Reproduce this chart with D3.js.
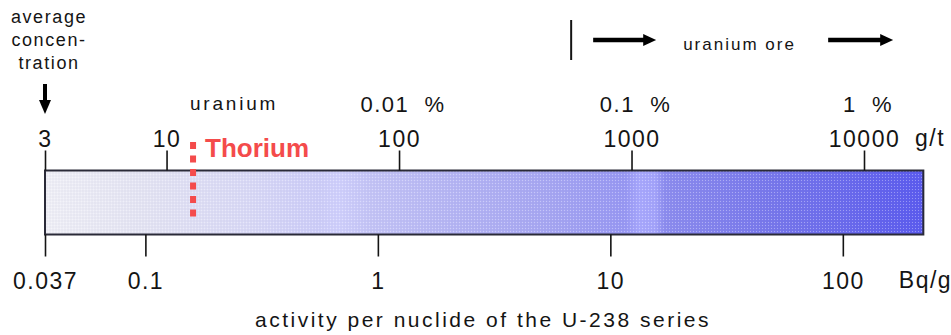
<!DOCTYPE html>
<html>
<head>
<meta charset="utf-8">
<script src="https://cdn.jsdelivr.net/npm/d3@7"></script>
<style>
  html, body { margin: 0; padding: 0; background: #ffffff; }
  svg { display: block; font-family: "Liberation Sans", Arial, sans-serif; }
</style>
</head>
<body>
<svg id="chart" width="951" height="335"></svg>
<script>
// ---- data ----
const gtTicks = [3, 10, 100, 1000, 10000];                 // uranium concentration, g/t
const gtTickLabels = ["3", "10", "100", "1000", "10000"];
const pctValues = [100, 1000, 10000];                     // g/t positions of percent labels
const pctLabels = ["0.01  %", "0.1  %", "1  %"];
const bqTicks = [0.037, 0.1, 1, 10, 100];                  // activity, Bq/g
const bqTickLabels = ["0.037", "0.1", "1", "10", "100"];
const averageConcentration = 3;                            // g/t
const thoriumValue = 13;                                   // g/t
const oreThreshold = 550;                                  // g/t
const barExtent = [3, 18000];                              // g/t
const bqPerGt = 0.037 / 3;                                 // Bq/g per g/t
const gradStopValues = [3, 8, 23, 45, 55, 75, 165, 445, 938, 1087, 1265, 1393, 4357, 17400];
const gradStopColors = ["#efeff6", "#e4e4f3", "#d9d9f6", "#cdcdf8", "#d0d0fc", "#c4c4f6",
                        "#b6b6f4", "#a6a6f2", "#9898f3", "#a8a8fd", "#a4a4fb", "#8c8cee",
                        "#7676eb", "#5c5cee"];

// ---- layout ----
const svg = d3.select("#chart");
const ink = "#141414";
const barTop = 170.5, barBottom = 234.5;

const x = d3.scaleLog().domain([3, 10000]).range([45, 864]);
const xBq = d3.scaleLog().domain(x.domain().map(d => d * bqPerGt)).range(x.range());

// gradient
const defs = svg.append("defs");
const x0 = x(barExtent[0]), x1 = x(barExtent[1]);
const grad = defs.append("linearGradient").attr("id", "barGrad")
  .attr("gradientUnits", "userSpaceOnUse")
  .attr("x1", x0).attr("x2", x1).attr("y1", 0).attr("y2", 0);
grad.selectAll("stop").data(gradStopValues).join("stop")
  .attr("offset", d => Math.max(0, Math.min(1, (x(d) - x0) / (x1 - x0))))
  .attr("stop-color", (d, i) => gradStopColors[i]);

// stipple texture
const pat = defs.append("pattern").attr("id", "stip")
  .attr("patternUnits", "userSpaceOnUse").attr("width", 3).attr("height", 3);
pat.append("rect").attr("x", 0).attr("y", 0).attr("width", 1).attr("height", 1)
  .attr("fill", "#ffffff").attr("opacity", 0.35);
pat.append("rect").attr("x", 1.5).attr("y", 1.5).attr("width", 1).attr("height", 1)
  .attr("fill", "#404070").attr("opacity", 0.12);

// bar
svg.append("rect")
  .attr("x", x0).attr("y", barTop)
  .attr("width", x1 - x0).attr("height", barBottom - barTop)
  .attr("fill", "url(#barGrad)");
svg.append("rect")
  .attr("x", x0).attr("y", barTop)
  .attr("width", x1 - x0).attr("height", barBottom - barTop)
  .attr("fill", "url(#stip)");
svg.append("rect")
  .attr("x", x0).attr("y", barTop)
  .attr("width", x1 - x0).attr("height", barBottom - barTop)
  .attr("fill", "none").attr("stroke", "#2a2a38").attr("stroke-width", 2);

const numStyle = sel => sel.attr("fill", ink)
  .style("font-size", "23px").style("letter-spacing", "1.5px")
  .style("font-family", "'Liberation Sans', Arial, sans-serif");

// top axis (g/t)
const topAxis = d3.axisTop(x).tickValues(gtTicks)
  .tickFormat((d, i) => gtTickLabels[i]).tickSizeInner(20).tickSizeOuter(0).tickPadding(4);
const gTop = svg.append("g").attr("transform", `translate(0,${barTop})`).call(topAxis);
gTop.select(".domain").remove();
gTop.selectAll(".tick line").attr("stroke", ink).attr("stroke-width", 1.6);
gTop.selectAll(".tick text").call(numStyle);

// bottom axis (Bq/g)
const botAxis = d3.axisBottom(xBq).tickValues(bqTicks)
  .tickFormat((d, i) => bqTickLabels[i]).tickSizeInner(22).tickSizeOuter(0).tickPadding(16);
const gBot = svg.append("g").attr("transform", `translate(0,${barBottom})`).call(botAxis);
gBot.select(".domain").remove();
gBot.selectAll(".tick line").attr("stroke", ink).attr("stroke-width", 1.6);
gBot.selectAll(".tick text").call(numStyle);

// unit labels
svg.append("text").attr("x", x(10000) + 51).attr("y", 146).call(numStyle).text("g/t");
svg.append("text").attr("x", xBq(100) + 56).attr("y", 288).call(numStyle).text("Bq/g");

// percent labels
svg.selectAll("text.pct").data(pctValues).join("text").attr("class", "pct")
  .attr("x", d => x(d) + 4).attr("y", 112)
  .attr("text-anchor", "middle").attr("fill", ink)
  .style("font-size", "22px").style("letter-spacing", "1.5px")
  .style("white-space", "pre")
  .text((d, i) => pctLabels[i]);

// "uranium" label
svg.append("text").attr("x", 190).attr("y", 110).attr("fill", ink)
  .style("font-size", "19px").style("letter-spacing", "2.8px").text("uranium");

// average concentration
const avgLines = ["average", "concen-", "tration"];
svg.selectAll("text.avg").data(avgLines).join("text").attr("class", "avg")
  .attr("x", x(averageConcentration) + 4).attr("y", (d, i) => 22.5 + i * 23)
  .attr("text-anchor", "middle").attr("fill", ink)
  .style("font-size", "18px").style("letter-spacing", "1.6px")
  .text(d => d);

// down arrow
const ax = x(averageConcentration);
svg.append("line").attr("x1", ax).attr("x2", ax).attr("y1", 84).attr("y2", 103)
  .attr("stroke", "#000").attr("stroke-width", 4);
svg.append("path").attr("d", `M${ax - 6},100 L${ax + 6},100 L${ax},114 Z`).attr("fill", "#000");

// thorium marker
const tx = x(thoriumValue);
svg.append("line").attr("x1", tx).attr("x2", tx).attr("y1", 142).attr("y2", 218)
  .attr("stroke", "#f44b4b").attr("stroke-width", 6).attr("stroke-dasharray", "7,6.5");
svg.append("text").attr("x", tx + 12).attr("y", 157).attr("fill", "#f44b4b")
  .style("font-size", "26px").style("font-weight", "bold").text("Thorium");

// uranium ore annotation
const ox = x(oreThreshold);
svg.append("line").attr("x1", ox).attr("x2", ox).attr("y1", 20).attr("y2", 60)
  .attr("stroke", ink).attr("stroke-width", 2);
function arrowRight(xa, xb, y) {
  svg.append("line").attr("x1", xa).attr("x2", xb - 10).attr("y1", y).attr("y2", y)
    .attr("stroke", "#000").attr("stroke-width", 4.5);
  svg.append("path").attr("d", `M${xb - 13},${y - 6} L${xb},${y} L${xb - 13},${y + 6} Z`).attr("fill", "#000");
}
arrowRight(ox + 22, ox + 85, 40);
arrowRight(ox + 257, ox + 322, 40);
svg.append("text").attr("x", ox + 112).attr("y", 50).attr("fill", ink)
  .style("font-size", "17px").style("letter-spacing", "2px").text("uranium ore");

// axis title
svg.append("text").attr("x", 483).attr("y", 327).attr("text-anchor", "middle").attr("fill", ink)
  .style("font-size", "21px").style("letter-spacing", "2.5px")
  .text("activity per nuclide of the U-238 series");
</script>
</body>
</html>
